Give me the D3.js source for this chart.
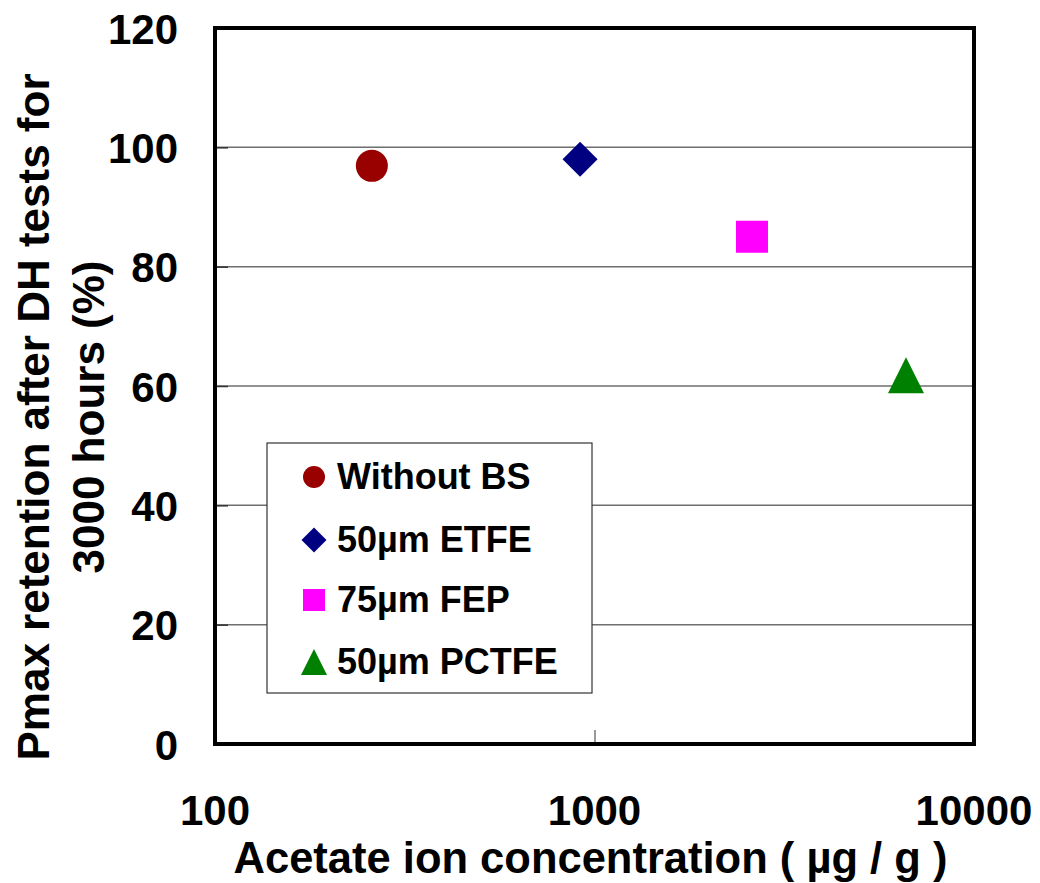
<!DOCTYPE html>
<html>
<head>
<meta charset="utf-8">
<script src="https://cdn.jsdelivr.net/npm/d3@7"></script>
<style>
  body { margin: 0; background: #fff; }
  text { font-family: "Liberation Sans", Arial, sans-serif; font-weight: bold; fill: #000; }
</style>
</head>
<body>
<div id="chart"></div>
<script>
// data
const seriesNames = ["Without BS", "50µm ETFE", "75µm FEP", "50µm PCTFE"];
const concentration = [259, 916, 2600, 6620];   // µg/g
const retention = [96.9, 98.0, 85.0, 61.8];     // %
const markerColors = ["#990000", "#000080", "#FF00FF", "#008000"];
const markerShapes = ["circle", "diamond", "square", "triangle"];
const xTicks = [100, 1000, 10000];
const yTicks = [0, 20, 40, 60, 80, 100, 120];

const width = 1040, height = 883;
const margin = { top: 28, right: 66, bottom: 139, left: 215 };
const innerW = width - margin.left - margin.right;
const innerH = height - margin.top - margin.bottom;

const svg = d3.select("#chart").append("svg")
    .attr("width", width)
    .attr("height", height);

const g = svg.append("g")
    .attr("transform", `translate(${margin.left},${margin.top})`);

const x = d3.scaleLog().domain([100, 10000]).range([0, innerW]);
const y = d3.scaleLinear().domain([0, 120]).range([innerH, 0]);

// triangle as tall as it is wide, centred on its box
const triangleType = {
    draw(context, size) {
        const s = Math.sqrt(size);
        context.moveTo(0, -s / 2);
        context.lineTo(s / 2, s / 2);
        context.lineTo(-s / 2, s / 2);
        context.closePath();
    }
};

// w is the marker's visible width in px
function markerPath(shape, w) {
    switch (shape) {
        case "circle":
            return d3.symbol(d3.symbolCircle, Math.PI * (w / 2) * (w / 2))();
        case "diamond":
            return d3.symbol(d3.symbolSquare, (w * w) / 2)();
        case "square":
            return d3.symbol(d3.symbolSquare, w * w)();
        default:
            return d3.symbol(triangleType, w * w)();
    }
}

// gridlines
g.append("g")
    .selectAll("line")
    .data(yTicks.filter(d => d > 0 && d < 120))
    .enter()
    .append("line")
    .attr("x1", 0)
    .attr("x2", innerW)
    .attr("y1", d => y(d))
    .attr("y2", d => y(d))
    .attr("stroke", "#6e6e6e")
    .attr("stroke-width", 1.5);

// inward ticks
const yAxis = g.append("g")
    .call(d3.axisLeft(y).tickValues(yTicks).tickSize(-13).tickFormat(""));
yAxis.select(".domain").remove();
yAxis.selectAll(".tick line").attr("stroke", "#333").attr("stroke-width", 1.5);

const xAxis = g.append("g")
    .attr("transform", `translate(0,${innerH})`)
    .call(d3.axisBottom(x).tickValues(xTicks).tickSize(-14).tickFormat(""));
xAxis.select(".domain").remove();
xAxis.selectAll(".tick line").attr("stroke", "#777").attr("stroke-width", 1.5);

// tick labels
g.append("g")
    .selectAll("text")
    .data(yTicks)
    .enter()
    .append("text")
    .attr("x", -37)
    .attr("y", d => y(d))
    .attr("dy", "0.37em")
    .attr("text-anchor", "end")
    .style("font-size", "42px")
    .text(d => d);

g.append("g")
    .selectAll("text")
    .data(xTicks)
    .enter()
    .append("text")
    .attr("x", d => x(d))
    .attr("y", innerH + 81)
    .attr("text-anchor", "middle")
    .style("font-size", "42px")
    .text(d => d);

// plot frame
g.append("rect")
    .attr("width", innerW)
    .attr("height", innerH)
    .attr("fill", "none")
    .attr("stroke", "#000")
    .attr("stroke-width", 4);

// data markers
g.append("g")
    .selectAll("path")
    .data(seriesNames)
    .enter()
    .append("path")
    .attr("d", (d, i) => markerPath(markerShapes[i], [32, 35, 32, 36][i]))
    .attr("transform", (d, i) => `translate(${x(concentration[i])},${y(retention[i])})` +
        (markerShapes[i] === "diamond" ? " rotate(45)" : ""))
    .attr("fill", (d, i) => markerColors[i]);

// legend
const legend = svg.append("g").attr("transform", "translate(267,443)");
legend.append("rect")
    .attr("width", 325)
    .attr("height", 250)
    .attr("fill", "#fff")
    .attr("stroke", "#333")
    .attr("stroke-width", 1.2);

const rowY = [34, 97, 157, 219];
const rows = legend.selectAll(".legend-row")
    .data(seriesNames)
    .enter()
    .append("g")
    .attr("class", "legend-row")
    .attr("transform", (d, i) => `translate(0,${rowY[i]})`);

rows.append("path")
    .attr("d", (d, i) => markerPath(markerShapes[i], [22, 25, 22, 26][i]))
    .attr("transform", (d, i) => "translate(47,0)" + (markerShapes[i] === "diamond" ? " rotate(45)" : ""))
    .attr("fill", (d, i) => markerColors[i]);

rows.append("text")
    .attr("x", 70)
    .attr("y", 12)
    .style("font-size", "36px")
    .text(d => d);

// axis titles
svg.append("text")
    .attr("x", margin.left + innerW / 2 - 4)
    .attr("y", 873)
    .attr("text-anchor", "middle")
    .style("font-size", "43.5px")
    .text("Acetate ion concentration ( µg / g )");

const yTitle = svg.append("text")
    .attr("transform", "translate(0,417) rotate(-90)")
    .attr("text-anchor", "middle")
    .style("font-size", "44px");
yTitle.append("tspan").attr("x", 0).attr("y", 49).text("Pmax retention after DH tests for");
yTitle.append("tspan").attr("x", 0).attr("y", 104).text("3000 hours (%)");
</script>
</body>
</html>
